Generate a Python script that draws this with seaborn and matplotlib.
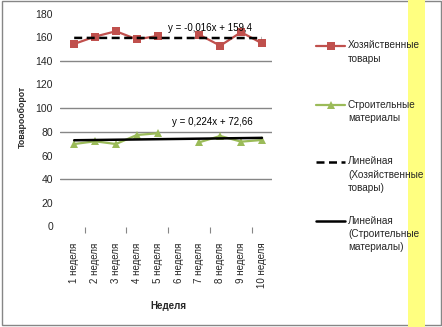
import numpy as np
import pandas as pd
import seaborn as sns
import matplotlib
matplotlib.use("Agg")
import matplotlib.pyplot as plt
from matplotlib.lines import Line2D
from matplotlib.patches import Rectangle

# ---- data ----
weeks = ["1 неделя", "2 неделя", "3 неделя", "4 неделя", "5 неделя",
         "6 неделя", "7 неделя", "8 неделя", "9 неделя", "10 неделя"]
household = [154.3, 160.5, 165.0, 158.2, 161.0, np.nan, 162.0, 152.8, 164.2, 154.8]
construction = [69.7, 72.0, 69.7, 77.3, 78.8, np.nan, 71.2, 76.5, 71.7, 73.1]
series_names = ["Хозяйственные товары", "Строительные материалы"]
trend_household = (-0.016, 159.4)
trend_construction = (0.224, 72.66)
trend_labels = ["y = -0,016x + 159,4", "y = 0,224x + 72,66"]
legend_labels = ["Хозяйственные\nтовары", "Строительные\nматериалы",
                 "Линейная\n(Хозяйственные\nтовары)", "Линейная\n(Строительные\nматериалы)"]
y_ticks = [0, 20, 40, 60, 80, 100, 120, 140, 160, 180]
grid_values = [40, 80, 100, 140]
x_label = "Неделя"
y_label = "Товарооборот"

RED = "#C0504D"
GREEN = "#9BBB59"

sns.set_theme(style="white")
plt.rcParams["font.family"] = ["Liberation Sans", "DejaVu Sans"]

W, H = 442, 327
fig = plt.figure(figsize=(W / 100, H / 100), dpi=100)

def fx(px):
    return px / W

def fy(py):
    return 1 - py / H

ax_left, ax_right = 60, 272.4
ax_top, ax_bottom = 13.5, 226.5
ax = fig.add_axes([fx(ax_left), fy(ax_bottom), fx(ax_right - ax_left), (ax_bottom - ax_top) / H])
ax.set_facecolor("none")

# long-form data with segment ids so missing weeks break the line
rows = []
for name, vals in zip(series_names, [household, construction]):
    seg = 0
    for i, v in enumerate(vals):
        if np.isnan(v):
            seg += 1
            continue
        rows.append({"pos": i, "value": v, "series": name, "seg": seg})
df = pd.DataFrame(rows)

for y in grid_values:
    ax.axhline(y, color="#868686", linewidth=1.0, zorder=0)

sns.lineplot(data=df, x="pos", y="value", hue="series", style="series", units="seg",
             estimator=None, palette={series_names[0]: RED, series_names[1]: GREEN},
             markers={series_names[0]: "s", series_names[1]: "^"}, dashes=False,
             markersize=5.2, markeredgewidth=0, linewidth=1.6, legend=False, ax=ax, zorder=3)

# trend lines
xs = np.array([0, len(weeks) - 1])
for (k, b), ls in zip([trend_household, trend_construction], [(0, (3.2, 1.8)), "-"]):
    sns.lineplot(x=xs, y=k * (xs + 1) + b, color="black", linewidth=1.8,
                 linestyle=ls, ax=ax, zorder=4)

ax.text(4.5, 167.8, trend_labels[0], fontsize=7, ha="left", va="center", zorder=5, color="#000000")
ax.text(4.69, 88.5, trend_labels[1], fontsize=7, ha="left", va="center", zorder=5, color="#000000")

ax.set_xlim(-0.68, 9.5)
ax.set_ylim(0, 180)
ax.set_yticks(y_ticks)
ax.set_yticklabels([str(t) for t in y_ticks], fontsize=7.5)
ax.set_xticks(range(len(weeks)))
ax.set_xticklabels(weeks, rotation=90, fontsize=7, va="top")
ax.set_xticks([0.5, 2.5, 4.5, 6.5, 8.5], minor=True)
ax.tick_params(axis="x", which="major", length=0, pad=11.5)
ax.tick_params(axis="x", which="minor", length=4, width=0.8, color="#868686", bottom=True, direction="out")
ax.tick_params(axis="y", length=0, pad=5)
for sp in ax.spines.values():
    sp.set_visible(False)
ax.set_xlabel("")
ax.set_ylabel("")

fig.text(fx(22), fy(117), y_label, rotation=90, ha="center", va="center", fontsize=6.3, fontweight="bold")
fig.text(fx(168), fy(305.7), x_label, ha="center", va="center", fontsize=7, fontweight="bold")

# legend (manual layout, Excel-style)
handles = [
    dict(color=RED, marker="s", ls="-", lw=1.6),
    dict(color=GREEN, marker="^", ls="-", lw=1.6),
    dict(color="black", marker=None, ls=(0, (3.2, 1.8)), lw=1.8),
    dict(color="black", marker=None, ls="-", lw=1.8),
]
entry_y = [46, 105, 162, 221]
for hd, lab, yy in zip(handles, legend_labels, entry_y):
    fig.add_artist(Line2D([fx(316), fx(345)], [fy(yy), fy(yy)], transform=fig.transFigure,
                          color=hd["color"], linestyle=hd["ls"], linewidth=hd["lw"]))
    if hd["marker"]:
        fig.add_artist(Line2D([fx(330.5)], [fy(yy)], transform=fig.transFigure, color=hd["color"],
                              marker=hd["marker"], markersize=5.2, markeredgewidth=0, linestyle="none"))
    fig.text(fx(348), fy(yy - 5.5), lab, ha="left", va="top", fontsize=7.2, linespacing=1.42)

# decoration: border and yellow band
fig.add_artist(Rectangle((fx(1.5), fy(325)), fx(439), (325 - 1) / H, transform=fig.transFigure,
                         fill=False, edgecolor="#868686", linewidth=1.0))
fig.add_artist(Rectangle((fx(408), 0), fx(17), 1, transform=fig.transFigure,
                         facecolor="#FFFF80", edgecolor="none"))

fig.savefig("out.png", dpi=100)
